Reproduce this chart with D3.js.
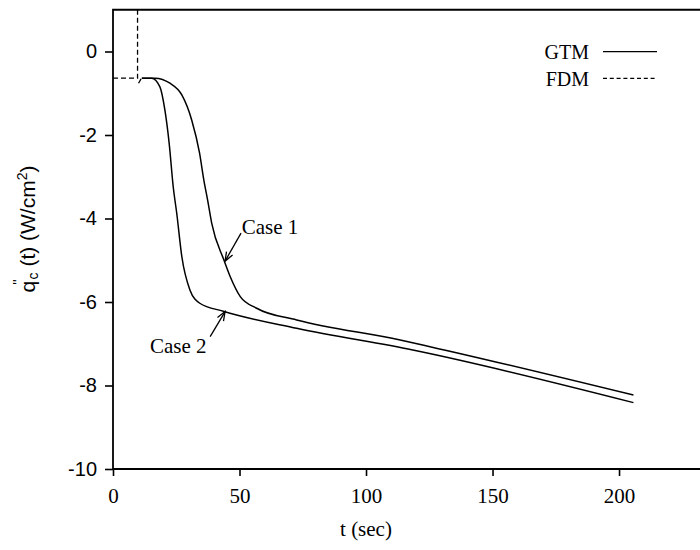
<!DOCTYPE html>
<html>
<head>
<meta charset="utf-8">
<script src="https://cdn.jsdelivr.net/npm/d3@7"></script>
<style>
  body { margin: 0; background: #fff; }
  svg { display: block; }
</style>
</head>
<body>
<div id="chart"></div>
<script>
// data: time in sec, heat flux in W/cm^2
const case1T = [11.4, 16.6, 22.5, 27.2, 31.1, 34.2, 35.9, 37.4, 39.0, 43.8, 46.3, 50.3, 56.8, 72.6, 113.5, 125.3, 205.7]
const case1Q = [-0.64, -0.64, -0.76, -1.04, -1.64, -2.43, -3.08, -3.56, -4.11, -4.99, -5.39, -5.87, -6.15, -6.43, -6.91, -7.07, -8.23]

const case2T = [11.4, 15.3, 18.5, 20.5, 22.2, 23.8, 25.2, 27.2, 30.4, 34.3, 43.6, 72.6, 118.5, 205.7]
const case2Q = [-0.64, -0.64, -0.84, -1.40, -2.20, -3.24, -3.88, -4.91, -5.71, -6.03, -6.22, -6.63, -7.15, -8.41]

// FDM start: flat part then a jump off the top, plus a short tail (null = gap)
const fdmT = [0, 9.7, 9.7, null, 10.1, 11.6]
const fdmQ = [-0.64, -0.64, 1.5, null, -0.76, -0.6]

const xTicks = [0, 50, 100, 150, 200]
const yTicks = [0, -2, -4, -6, -8, -10]

const legendNames = ["GTM", "FDM"]
const caseLabels = ["Case 1", "Case 2"]
// label anchor (t, q), arrow tail (t, q), arrow tip (t, q)
const caseLabelAt = [[50.9, -4.38], [14.6, -7.23]]
const arrowFrom = [[50.6, -4.35], [38.4, -6.83]]
const arrowTo = [[44.3, -5.02], [44.3, -6.23]]

let W = 700, H = 550
let plot = { left: 113, right: 700, top: 9.75, bottom: 469 }

let svg = d3.select("#chart").append("svg")
  .attr("width", W).attr("height", H)

const xScale = d3.scaleLinear().domain([0, 232]).range([plot.left, plot.right])
const yScale = d3.scaleLinear().domain([-10, 1]).range([plot.bottom, plot.top])

svg.append("defs").append("clipPath").attr("id", "clip")
  .append("rect")
  .attr("x", plot.left).attr("y", plot.top)
  .attr("width", plot.right - plot.left + 5).attr("height", plot.bottom - plot.top)

let arrowDef = svg.select("defs").append("marker")
  .attr("id", "arr").attr("viewBox", "-10 -5 12 10")
  .attr("refX", 0).attr("refY", 0)
  .attr("markerWidth", 12).attr("markerHeight", 10)
  .attr("markerUnits", "userSpaceOnUse")
  .attr("orient", "auto")
arrowDef.append("path").attr("d", "M-9,-3.5L0,0L-9,3.5")
  .attr("fill", "none").attr("stroke", "#000").attr("stroke-width", 1.3)

// axes
let xAxis = d3.axisBottom(xScale).tickValues(xTicks).tickSize(7).tickSizeOuter(0).tickPadding(12)
let gx = svg.append("g").attr("transform", "translate(0," + plot.bottom + ")").call(xAxis)
gx.select(".domain").remove()
gx.selectAll(".tick line").attr("stroke", "#000").attr("stroke-width", 1.6)
gx.selectAll(".tick text")
  .attr("font-family", "'Liberation Serif', 'Times New Roman', serif")
  .attr("font-size", 21).attr("fill", "#000")

let yAxis = d3.axisLeft(yScale).tickValues(yTicks).tickSize(8).tickSizeOuter(0).tickPadding(8)
  .tickFormat(d => String(d))
let gy = svg.append("g").attr("transform", "translate(" + plot.left + ",0)").call(yAxis)
gy.select(".domain").remove()
gy.selectAll(".tick line").attr("stroke", "#000").attr("stroke-width", 1.6)
gy.selectAll(".tick text")
  .attr("font-family", "'Liberation Sans', Arial, sans-serif")
  .attr("font-size", 20).attr("fill", "#000")

// frame (right side runs off the page)
svg.append("path")
  .attr("d", "M" + (W + 5) + "," + plot.top + "H" + plot.left + "V" + plot.bottom + "H" + (W + 5))
  .attr("fill", "none").attr("stroke", "#000").attr("stroke-width", 1.8)

// curves
const line = d3.line()
  .defined(d => d[0] != null)
  .x(d => xScale(d[0])).y(d => yScale(d[1]))

let lines = svg.append("g").attr("clip-path", "url(#clip)")
lines.append("path")
  .datum(d3.zip(case1T, case1Q))
  .attr("d", line.curve(d3.curveMonotoneX))
  .attr("fill", "none").attr("stroke", "#000").attr("stroke-width", 1.5)
lines.append("path")
  .datum(d3.zip(case2T, case2Q))
  .attr("d", line.curve(d3.curveMonotoneX))
  .attr("fill", "none").attr("stroke", "#000").attr("stroke-width", 1.5)
lines.append("path")
  .datum(d3.zip(fdmT, fdmQ))
  .attr("d", line.curve(d3.curveLinear))
  .attr("fill", "none").attr("stroke", "#000").attr("stroke-width", 1.3)
  .attr("stroke-dasharray", "5,3")

// case labels + arrows
caseLabels.forEach(function (lab, i) {
  svg.append("text")
    .attr("x", xScale(caseLabelAt[i][0])).attr("y", yScale(caseLabelAt[i][1]))
    .attr("font-family", "'Liberation Serif', 'Times New Roman', serif")
    .attr("font-size", 21).text(lab)
  svg.append("line")
    .attr("x1", xScale(arrowFrom[i][0])).attr("y1", yScale(arrowFrom[i][1]))
    .attr("x2", xScale(arrowTo[i][0])).attr("y2", yScale(arrowTo[i][1]))
    .attr("stroke", "#000").attr("stroke-width", 1.3)
    .attr("marker-end", "url(#arr)")
})

// legend
let leg = svg.append("g")
legendNames.forEach(function (name, i) {
  let yy = 59.3 + i * 26.7
  leg.append("text")
    .attr("x", 589).attr("y", yy).attr("text-anchor", "end")
    .attr("font-family", "'Liberation Serif', 'Times New Roman', serif")
    .attr("font-size", 20).text(name)
  leg.append("line")
    .attr("x1", 603).attr("x2", 657).attr("y1", yy - 7.6).attr("y2", yy - 7.6)
    .attr("stroke", "#000").attr("stroke-width", 1.3)
    .attr("stroke-dasharray", i == 1 ? "4,2.8" : null)
})

// axis titles
svg.append("text")
  .attr("x", 366).attr("y", 536)
  .attr("text-anchor", "middle")
  .attr("font-family", "'Liberation Serif', 'Times New Roman', serif")
  .attr("font-size", 21).text("t (sec)")

let yt = svg.append("text")
  .attr("transform", "translate(35,229) rotate(-90)")
  .attr("text-anchor", "middle")
  .attr("font-family", "'Liberation Sans', Arial, sans-serif")
  .attr("font-size", 21)
yt.append("tspan").text("q")
yt.append("tspan").attr("font-size", 14).attr("dx", -4).attr("dy", -12).text("''")
yt.append("tspan").attr("font-size", 14).attr("dx", 0).attr("dy", 15).text("c")
yt.append("tspan").attr("dy", -3).text(" (t) (W/cm")
yt.append("tspan").attr("font-size", 14).attr("dy", -8).text("2")
yt.append("tspan").attr("dy", 8).text(")")
</script>
</body>
</html>
